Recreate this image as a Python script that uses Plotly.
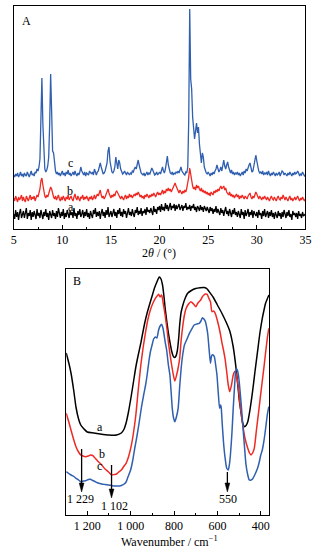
import numpy as np
import plotly.graph_objects as go

# ---------------- Panel A: XRD (2theta 5..35, step 0.1) ----------------
two_theta = np.round(5 + 0.1 * np.arange(301), 1)

xrd_c = [54,52,55,53,56,52,54,57,53,55,
         52,56,54,53,57,54,52,55,58,54,
         55,53,57,56,60,58,62,70,100,151,
         105,70,60,57,59,63,72,105,155,118,
         78,76,62,58,55,57,54,56,53,55,
         58,54,56,53,57,55,59,54,56,53,
         55,57,54,58,55,53,56,54,57,62,
         58,55,54,57,53,56,55,54,58,56,
         55,57,54,60,56,54,57,58,62,66,
         62,57,55,56,58,62,66,78,82,68,
         60,57,56,58,62,72,66,60,69,66,
         60,57,55,56,58,56,54,57,55,54,
         56,55,58,57,60,62,60,66,69,64,
         58,56,55,54,56,53,55,57,54,56,
         55,58,61,59,56,54,55,57,54,56,
         57,55,59,62,58,56,60,66,73,64,
         58,56,55,57,54,56,55,57,56,58,
         56,59,62,58,56,55,54,57,56,62,
         110,220,150,140,112,95,90,98,106,96,
         102,85,70,66,76,72,62,58,56,55,
         57,55,53,56,54,57,55,58,60,64,
         60,57,59,62,58,64,69,63,60,64,
         67,62,58,56,59,55,57,54,56,55,
         57,54,56,53,55,57,54,58,56,60,
         58,62,64,66,60,57,58,64,70,74,
         68,62,58,56,57,55,58,54,56,55,
         57,54,58,55,53,56,54,57,55,53,
         56,54,55,57,53,56,58,57,54,56,
         55,53,56,54,57,55,53,56,54,57,
         55,56,58,56,53,55,54,57,55,53,
         54]

xrd_b = [31,28,33,30,27,32,29,31,34,28,
         32,29,27,33,30,28,31,34,29,32,
         30,33,28,31,34,32,36,40,48,51,
         44,36,33,31,34,32,35,38,42,40,
         35,32,30,33,29,31,34,30,28,32,
         29,33,31,28,32,30,34,29,31,33,
         30,28,32,35,31,29,33,30,28,32,
         31,34,29,32,30,33,31,28,32,30,
         33,29,31,34,30,32,35,33,36,39,
         34,31,33,30,32,35,37,40,36,33,
         31,34,32,35,33,37,38,36,34,32,
         30,33,31,29,32,34,30,33,31,35,
         32,34,31,33,35,33,36,34,37,35,
         32,34,31,33,30,34,32,35,33,31,
         34,32,35,33,36,34,32,35,37,34,
         36,34,37,39,35,38,36,40,38,41,
         38,40,37,39,42,44,46,43,40,38,
         36,39,37,35,38,36,39,37,41,45,
         52,61,55,47,43,40,42,39,44,41,
         43,40,38,41,37,39,36,38,35,37,
         34,36,33,37,35,34,38,36,39,37,
         40,38,41,43,40,42,43,39,41,37,
         36,34,37,33,35,32,34,31,33,35,
         32,34,30,33,31,34,32,30,33,31,
         30,33,35,36,32,30,33,31,34,37,
         35,32,30,33,31,29,32,30,33,31,
         29,32,30,28,31,33,30,29,32,30,
         28,31,33,30,29,32,30,34,31,29,
         32,30,28,31,33,29,31,28,30,32,
         29,31,33,30,28,31,29,32,30,28,
         30]

xrd_a = [15,10,19,12,17,9,16,20,11,14,
         18,11,15,21,10,16,13,19,9,17,
         12,18,14,10,20,13,16,11,19,15,
         10,17,13,20,12,16,9,18,14,11,
         19,13,16,10,18,12,21,14,11,17,
         13,20,10,16,12,19,15,11,18,14,
         17,11,21,13,16,10,18,14,20,12,
         15,19,11,17,13,20,12,16,10,18,
         14,11,19,15,21,12,17,13,18,10,
         16,20,13,17,11,19,14,22,12,16,
         18,12,15,20,13,17,11,19,15,21,
         13,17,12,20,15,18,11,16,21,14,
         17,13,20,15,12,19,16,22,14,18,
         15,21,13,18,16,20,14,22,17,19,
         16,21,18,14,23,17,20,15,22,19,
         23,17,25,19,22,18,26,20,24,18,
         22,26,19,23,21,25,18,24,20,23,
         25,19,22,24,18,23,21,26,19,22,
         20,24,18,23,21,25,19,22,17,23,
         21,18,24,19,22,17,23,20,18,22,
         19,16,22,18,21,15,20,17,23,16,
         20,17,14,21,16,19,13,18,22,15,
         18,13,20,16,12,19,15,21,14,17,
         12,18,15,11,20,14,17,10,19,13,
         16,20,12,17,14,19,11,18,15,13,
         17,11,19,14,16,10,18,13,20,12,
         15,18,11,17,13,19,12,16,10,17,
         14,11,18,13,16,10,17,12,19,14,
         11,17,13,19,12,15,9,18,14,16,
         12,16,10,18,13,15,11,17,13,14,
         15]

xrd_ticks = [5, 10, 15, 20, 25, 30, 35]

# ---------------- Panel B: FTIR ----------------
wn_a = [1297,1285,1275,1262,1252,1240,1230,1215,1200,1170,1140,1100,1065,1043,1030,1021,1010,
        998,987,976,965,953,946,935,924,912,901,890,879,868,860,853,847,841,833,826,819,811,804,
        798,791,785,778,774,767,759,750,737,720,700,680,660,647,640,620,600,580,560,543,527,513,
        505,498,490,483,475,468,460,450,438,427,415,404,393,385,378,372,366,362]
t_a = [162,152,142,124,108,96,90,86,83,82,81,80,80,82,86,92,103,
       118,133,148,160,172,180,192,202,211,219,227,233,238,236,230,220,207,193,182,173,164,159,
       157.5,159,164,178,190,203,210,216,221.7,224.5,226.5,227.3,227.5,226,224,218,210,202,193,184,168,145,
       128,113,101,91.7,88.3,89.5,93.3,105,123.3,143,163.3,182,196.7,205,211.7,215,218.3,220]

wn_b = [1297,1285,1275,1262,1252,1240,1230,1220,1208,1195,1185,1175,1163,1150,1133,1118,1103,1088,
        1075,1065,1055,1043,1030,1021,1010,998,987,976,965,953,942,931,920,909,897,886,878,871,864,
        857,850,841,833,826,818,811,803,796,788,781,774,767,759,752,744,733,722,710,699,690,677,670,
        662,655,647,640,632,625,618,610,602,595,587,580,572,565,557,550,543,535,527,520,517,511,505,
        494,483,472,460,452,445,438,430,420,408,397,386,378,370,363]
t_b = [101.7,93,85,75,68.3,63,60,59,58.3,59,60,59.5,56.7,53.5,50,46,43.3,40,
       40.5,41,43,45,49,51.7,58,68.3,82,100,125,150,168,183,196,205,212,216.7,219,220.7,218,
       220,212,200,187,173,160,150,140,134,140,147,156.7,175,190,200,206.7,211,213.3,211,208.3,212,215,218,
       220,221,220.7,217,213.3,203.3,204,201.7,196,190,182,173.3,165,156.7,143,130,123.3,130,140,143.5,143.3,138,130,
       108,90,76,66.7,62,60,62,66.7,85,106.7,127,146.7,162,176.7,186.7]

wn_c = [1297,1285,1275,1262,1252,1240,1230,1218,1208,1195,1185,1175,1163,1150,1133,1118,1103,1088,
        1075,1062,1050,1043,1033,1021,1012,1000,990,980,970,961,950,940,931,924,915,909,900,894,886,
        879,871,864,857,850,841,834,826,819,813,808,802,796,789,781,774,767,760,752,740,729,718,707,
        695,684,676,669,662,655,648,644,638,632,628,625,620,614,608,602,596,590,586,583,578,572,565,
        557,550,545,540,533,527,521,516,512,508,503,498,490,483,475,468,460,453,445,438,428,415,408,
        400,393,386,378,370,363]
t_c = [43.3,41.5,40,38.5,36.7,35,33.3,34,34.3,35.5,35.7,34.5,33.3,32,31,30.5,30,29.5,
       29,29,29,29.5,30.5,33,38.3,45,55,68,80,92,108,120,130,140,155,163,171,176,178,
       177,185,189,190.7,186,173.3,165,150,140,122,106.7,97,93.3,98,106.7,128,146.7,160,170,176,181.7,186,190,
       191,191.7,194,197.3,196,193.3,186,180,165,151.7,158,160,160,158.3,150,140,122,106.7,110,108.3,92,73.3,58,
       46.7,45,50,60,82,106.7,128,143.3,146,145,140,130,110,90,68,50,40,35,35,36,40,46.7,52,
       60,65,73.3,86,100,108.3]

ftir_tickvals = [1200, 1000, 800, 600, 400]
ftir_ticktext = ["1 200", "1 000", "800", "600", "400"]

# marked bands: (arrow position, tail level, head level)
band_arrows = [(1226, 66, 23), (1088, 50, 17), (554, 43, 23)]

BLUE = "#2f5fae"
RED = "#ee2a24"
BLACK = "#000000"
FONT = "Liberation Serif, Times New Roman, serif"

fig = go.Figure()
fig.add_trace(go.Scatter(x=two_theta, y=xrd_a, mode="lines", line=dict(color=BLACK, width=1.3),
                         xaxis="x", yaxis="y", showlegend=False, hoverinfo="skip"))
fig.add_trace(go.Scatter(x=two_theta, y=xrd_b, mode="lines", line=dict(color=RED, width=1.3),
                         xaxis="x", yaxis="y", showlegend=False, hoverinfo="skip"))
fig.add_trace(go.Scatter(x=two_theta, y=xrd_c, mode="lines", line=dict(color=BLUE, width=1.3),
                         xaxis="x", yaxis="y", showlegend=False, hoverinfo="skip"))

for wn, t, col in [(wn_a, t_a, BLACK), (wn_b, t_b, RED), (wn_c, t_c, BLUE)]:
    fig.add_trace(go.Scatter(x=wn, y=t, mode="lines",
                             line=dict(color=col, width=1.5, shape="spline", smoothing=0.6),
                             xaxis="x2", yaxis="y2", showlegend=False, hoverinfo="skip"))

W, H = 327, 555
def py(px):
    return 1 - px / H

axis_common = dict(showline=True, mirror=True, linecolor="black", linewidth=1,
                   showgrid=False, zeroline=False,
                   tickfont=dict(family=FONT, size=12, color="black"))

fig.update_layout(
    width=W, height=H, margin=dict(l=0, r=0, t=0, b=0),
    paper_bgcolor="white", plot_bgcolor="white",
    font=dict(family=FONT, size=12, color="black"),
    xaxis=dict(domain=[11 / W, 311 / W], range=[5, 35], tickvals=xrd_ticks,
               ticks="inside", ticklen=4, tickwidth=1, tickcolor="black",
               minor=dict(ticks="inside", ticklen=2, dtick=2.5, tick0=5, tickcolor="black"),
               anchor="y", **axis_common),
    yaxis=dict(domain=[py(229), py(6)], range=[0, 223], showticklabels=False, ticks="",
               anchor="x", **axis_common),
    xaxis2=dict(domain=[65 / W, 274 / W], range=[1297, 360], tickvals=ftir_tickvals,
                ticktext=ftir_ticktext,
                ticks="inside", ticklen=4, tickwidth=1, tickcolor="black",
                minor=dict(ticks="inside", ticklen=2, dtick=100, tick0=400, tickcolor="black"),
                anchor="y2", **axis_common),
    yaxis2=dict(domain=[py(515), py(269)], range=[0, 246], showticklabels=False, ticks="",
                anchor="x2", **axis_common),
)

ann = []
def txt(x, y, s, xref, yref, size=12):
    ann.append(dict(x=x, y=y, xref=xref, yref=yref, text=s, showarrow=False,
                    font=dict(family=FONT, size=size, color="black"),
                    xanchor="center", yanchor="middle"))

# Panel A labels
txt(6.3, 208, "A", "x", "y")
txt(10.85, 66, "c", "x", "y")
txt(10.8, 38, "b", "x", "y")
txt(10.9, 22, "a", "x", "y")
txt(0.49, py(253), "2<i>θ</i> / (°)", "paper", "paper")

# Panel B labels
txt(1245, 234, "B", "x2", "y2")
txt(1140, 88, "a", "x2", "y2")
txt(1133, 61, "b", "x2", "y2")
txt(1143, 49, "c", "x2", "y2")
txt(1230, 16, "1 229", "x2", "y2")
txt(1076, 9, "1 102", "x2", "y2")
txt(553, 16, "550", "x2", "y2")
txt(0.525, py(541.5), "Wavenumber / cm<sup>−1</sup>", "paper", "paper")
fig.update_layout(annotations=ann)

# arrows as shapes (shaft + filled head)
for xa, y_tail, y_head in band_arrows:
    fig.add_shape(type="line", xref="x2", yref="y2", x0=xa, x1=xa, y0=y_tail, y1=y_head + 7,
                  line=dict(color="black", width=1.3))
    fig.add_shape(type="path", xref="x2", yref="y2",
                  path=f"M {xa - 11} {y_head + 9} L {xa + 11} {y_head + 9} L {xa} {y_head} Z",
                  fillcolor="black", line=dict(color="black", width=0.5))

fig.write_html("out.html",
               config={"displayModeBar": False, "staticPlot": True},
               post_script="document.body.style.margin='0';document.body.style.overflow='hidden';")
